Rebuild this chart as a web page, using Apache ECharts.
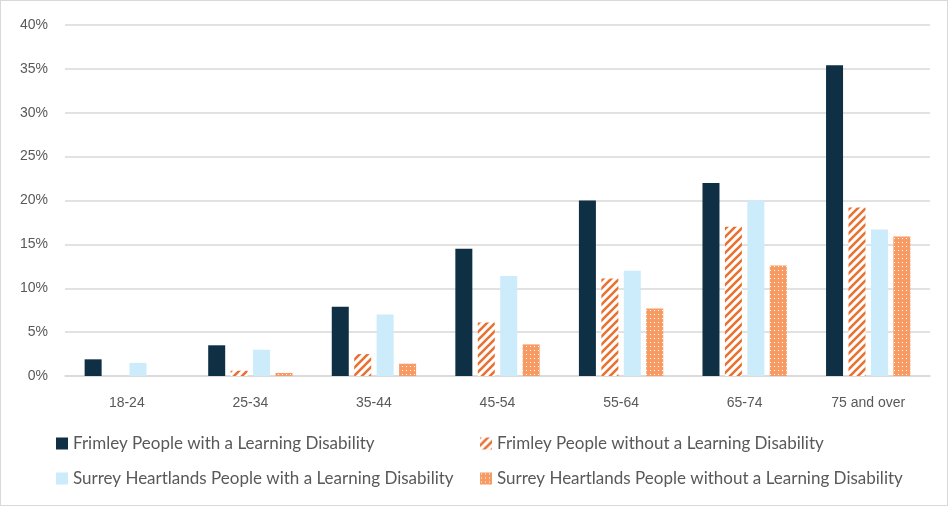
<!DOCTYPE html>
<html>
<head>
<meta charset="utf-8">
<script src="https://cdn.jsdelivr.net/npm/echarts@6/dist/echarts.min.js"></script>
<style>
html, body { margin: 0; padding: 0; background: #fff; }
#main { width: 948px; height: 506px; box-sizing: border-box; border: 1px solid #d9d9d9; }
</style>
</head>
<body>
<div id="main"></div>
<script>
var categories = ['18-24', '25-34', '35-44', '45-54', '55-64', '65-74', '75 and over'];
var seriesNames = [
    'Frimley People with a Learning Disability',
    'Frimley People without a Learning Disability',
    'Surrey Heartlands People with a Learning Disability',
    'Surrey Heartlands People without a Learning Disability'
];
var frimleyLD = [1.9, 3.5, 7.9, 14.5, 20.0, 22.0, 35.4];
var frimleyNoLD = [0, 0.6, 2.5, 6.1, 11.1, 17.0, 19.2];
var surreyLD = [1.5, 3.0, 7.0, 11.4, 12.0, 20.0, 16.7];
var surreyNoLD = [0, 0.35, 1.4, 3.6, 7.7, 12.6, 15.9];

// diagonal stripe pattern
function stripePattern() {
    var c = document.createElement('canvas');
    c.width = 8; c.height = 8;
    var ctx = c.getContext('2d');
    ctx.fillStyle = '#ffffff';
    ctx.fillRect(0, 0, 8, 8);
    ctx.strokeStyle = '#E97132';
    ctx.lineWidth = 2.6;
    ctx.beginPath();
    ctx.moveTo(-2, 10); ctx.lineTo(10, -2);
    ctx.moveTo(-6, 6); ctx.lineTo(6, -6);
    ctx.moveTo(2, 14); ctx.lineTo(14, 2);
    ctx.stroke();
    return c;
}
// dotted pattern
function dotPattern() {
    var c = document.createElement('canvas');
    c.width = 4; c.height = 4;
    var ctx = c.getContext('2d');
    ctx.fillStyle = '#F79B65';
    ctx.fillRect(0, 0, 4, 4);
    ctx.fillStyle = '#ffffff';
    ctx.fillRect(1, 1, 1, 1);
    return c;
}

var myChart = echarts.init(document.getElementById('main'));
var labelFont = '"Liberation Sans", Arial, sans-serif';
var legendFont = 'Lato, "Open Sans", sans-serif';

function legendBlock(left, names) {
    return {
        orient: 'vertical',
        left: left,
        top: 429,
        icon: 'rect',
        itemWidth: 12,
        itemHeight: 12,
        itemGap: 18,
        textStyle: { color: '#595959', fontSize: 17, fontFamily: legendFont },
        data: names
    };
}

myChart.setOption({
    animation: false,
    grid: { left: 64, right: 17, top: 24, bottom: 129 },
    legend: [
        legendBlock(50, [seriesNames[0], seriesNames[2]]),
        legendBlock(474, [seriesNames[1], seriesNames[3]])
    ],
    xAxis: {
        type: 'category',
        data: categories,
        axisTick: { show: false },
        axisLine: { lineStyle: { color: '#d9d9d9', width: 1.5 } },
        axisLabel: { color: '#595959', fontSize: 14, fontFamily: labelFont, margin: 20 }
    },
    yAxis: {
        type: 'value',
        min: 0,
        max: 40,
        interval: 5,
        axisLabel: { formatter: '{value}%', color: '#595959', fontSize: 14, fontFamily: labelFont, margin: 17 },
        splitLine: { lineStyle: { color: '#d9d9d9', width: 1.5 } }
    },
    series: [
        {
            name: seriesNames[0], type: 'bar', data: frimleyLD,
            barWidth: 17, barGap: '32%',
            itemStyle: { color: '#0E2F44' }
        },
        {
            name: seriesNames[1], type: 'bar', data: frimleyNoLD,
            barWidth: 17, barGap: '32%',
            itemStyle: { color: { image: stripePattern(), repeat: 'repeat' } }
        },
        {
            name: seriesNames[2], type: 'bar', data: surreyLD,
            barWidth: 17, barGap: '32%',
            itemStyle: { color: '#CCEBFB' }
        },
        {
            name: seriesNames[3], type: 'bar', data: surreyNoLD,
            barWidth: 17, barGap: '32%',
            itemStyle: { color: { image: dotPattern(), repeat: 'repeat' } }
        }
    ]
});
</script>
</body>
</html>
